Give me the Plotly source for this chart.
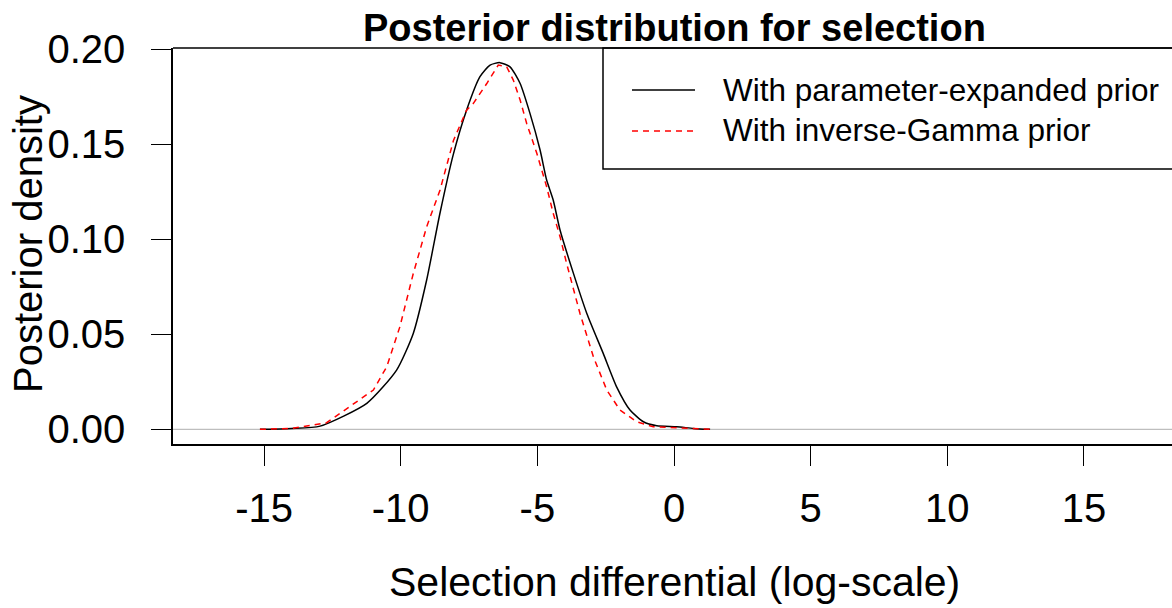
import plotly.graph_objects as go

# Data
x_expanded = [-15.15, -14.0, -12.95, -11.24, -10.15, -9.54, -9.05, -8.56, -8.07, -7.59, -7.10, -6.73,
              -6.37, -6.0, -5.63, -5.27, -4.90, -4.66, -4.42, -4.17, -3.68, -3.19, -2.59, -2.10,
              -1.61, -1.12, -0.63, 0.10, 0.71, 1.32]
y_expanded = [0.0, 0.0005, 0.0017, 0.0137, 0.0312, 0.0505, 0.0786, 0.114, 0.145, 0.168, 0.1856, 0.1917,
              0.193, 0.1908, 0.182, 0.1663, 0.147, 0.1312, 0.1207, 0.1049, 0.0821, 0.061, 0.040, 0.0224,
              0.0102, 0.004, 0.0019, 0.0014, 0.0005, 0.0]

x_invgamma = [-15.15, -14.0, -12.71, -11.0, -10.51, -10.03, -9.54, -9.05, -8.56, -8.07, -7.59, -7.34,
              -6.85, -6.43, -6.12, -5.88, -5.63, -5.39, -5.02, -4.66, -4.42, -4.17, -3.93, -3.44,
              -2.95, -2.46, -1.98, -1.37, -0.76, 0.10, 1.32]
y_invgamma = [0.0, 0.0005, 0.0035, 0.0207, 0.033, 0.054, 0.082, 0.1066, 0.126, 0.152, 0.168, 0.1716,
              0.182, 0.1917, 0.1908, 0.1838, 0.1733, 0.161, 0.1453, 0.1277, 0.1137, 0.1014, 0.0874, 0.061,
              0.0382, 0.0207, 0.0102, 0.004, 0.0014, 0.0007, 0.0]

x_ticks = [-15, -10, -5, 0, 5, 10, 15]
y_ticks = [0.00, 0.05, 0.10, 0.15, 0.20]
y_ticklabels = ["0.00", "0.05", "0.10", "0.15", "0.20"]
legend_labels = ["With parameter-expanded prior", "With inverse-Gamma prior"]

FONT = "Liberation Sans"

fig = go.Figure()
fig.add_trace(go.Scatter(x=x_expanded, y=y_expanded, mode="lines",
                         line=dict(color="black", width=1.5, shape="spline", smoothing=0.6),
                         showlegend=False, hoverinfo="skip"))
fig.add_trace(go.Scatter(x=x_invgamma, y=y_invgamma, mode="lines",
                         line=dict(color="red", width=1.5, dash="6px,5px"),
                         showlegend=False, hoverinfo="skip"))

W, H = 1172, 608
L, R, T, B = 173, 0, 48, 164
pw, ph = W - L - R, H - T - B

def px_x(p):
    return (p - L) / pw

def px_y(p):
    return (H - B - p) / ph

shapes = [
    # gray zero line
    dict(type="line", xref="paper", yref="y", x0=0, x1=1, y0=0, y1=0,
         line=dict(color="#bebebe", width=1.2), layer="below"),
    # top border of plot box
    dict(type="line", xref="paper", yref="paper", x0=0, x1=1.01, y0=1, y1=1,
         line=dict(color="black", width=1.5)),
    # legend box
    dict(type="rect", xref="paper", yref="paper", x0=px_x(603), x1=px_x(1180),
         y0=px_y(169), y1=1, line=dict(color="black", width=1.5), fillcolor="rgba(0,0,0,0)"),
    # legend samples
    dict(type="line", xref="paper", yref="paper", x0=px_x(632), x1=px_x(695),
         y0=px_y(90), y1=px_y(90), line=dict(color="black", width=1.5)),
    dict(type="line", xref="paper", yref="paper", x0=px_x(632), x1=px_x(695),
         y0=px_y(131), y1=px_y(131), line=dict(color="red", width=1.5, dash="6px,5px")),
]

annotations = [
    dict(text="<b>Posterior distribution for selection</b>", xref="x", yref="paper", x=0,
         y=px_y(28), xanchor="center", yanchor="middle", showarrow=False,
         font=dict(family=FONT, size=38, color="black")),
    dict(text="Selection differential (log-scale)", xref="x", yref="paper", x=0,
         y=px_y(582), xanchor="center", yanchor="middle", showarrow=False,
         font=dict(family=FONT, size=41, color="black")),
    dict(text="Posterior density", xref="paper", yref="paper", x=px_x(28),
         y=px_y(244), xanchor="center", yanchor="middle", textangle=-90, showarrow=False,
         font=dict(family=FONT, size=40, color="black")),
    dict(text=legend_labels[0], xref="paper", yref="paper", x=px_x(721), y=px_y(90),
         xanchor="left", yanchor="middle", showarrow=False,
         font=dict(family=FONT, size=31.5, color="black")),
    dict(text=legend_labels[1], xref="paper", yref="paper", x=px_x(721), y=px_y(130),
         xanchor="left", yanchor="middle", showarrow=False,
         font=dict(family=FONT, size=31.5, color="black")),
]

fig.update_layout(
    width=W, height=H,
    margin=dict(l=L, r=R, t=T, b=B, pad=0),
    paper_bgcolor="white", plot_bgcolor="white",
    font=dict(family=FONT, color="black", size=40),
    shapes=shapes, annotations=annotations,
    xaxis=dict(range=[(L - 674) / 27.33, (W - 674) / 27.33], tickmode="array", tickvals=x_ticks,
               ticktext=[str(v) for v in x_ticks], ticks="outside", ticklen=20, tickwidth=1,
               tickcolor="black", showline=True, linecolor="black", linewidth=1.5,
               showgrid=False, zeroline=False, tickfont=dict(size=40, family=FONT),
               ticklabelstandoff=8),
    yaxis=dict(range=[-0.0077, 0.2007], tickmode="array", tickvals=y_ticks, ticktext=y_ticklabels,
               ticks="outside", ticklen=20, tickwidth=1, tickcolor="black", showline=True,
               linecolor="black", linewidth=1.5, showgrid=False, zeroline=False,
               tickfont=dict(size=40, family=FONT), ticklabelstandoff=18),
)

fig.write_html("out.html")
